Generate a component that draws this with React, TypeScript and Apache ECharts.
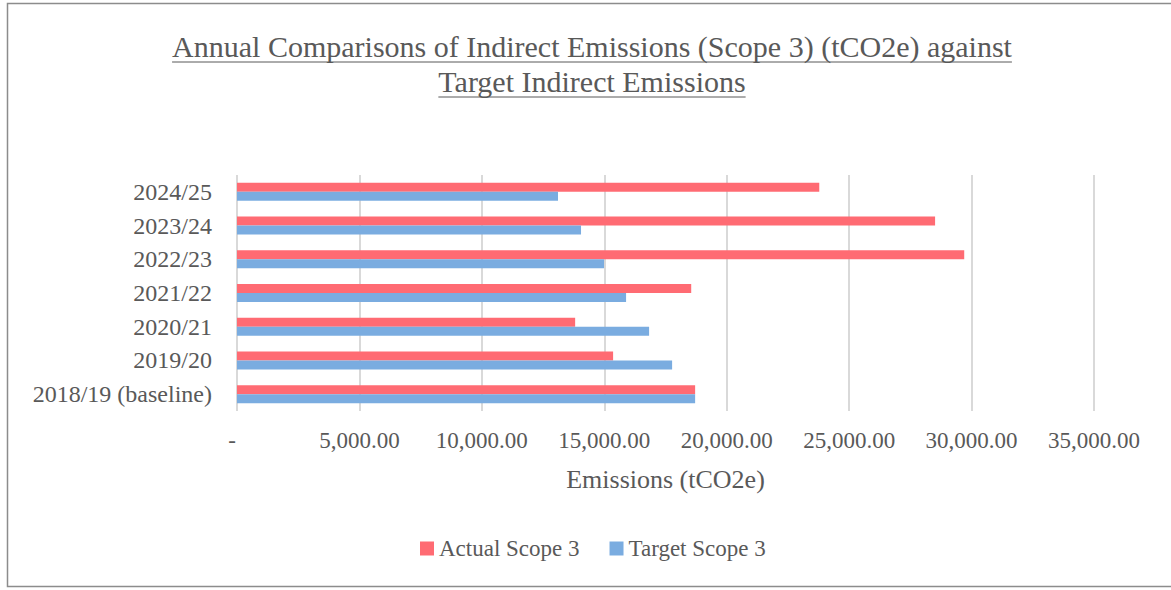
import React, { useEffect, useRef } from "react";
import * as echarts from "echarts";

const categories = [
  "2018/19 (baseline)",
  "2019/20",
  "2020/21",
  "2021/22",
  "2022/23",
  "2023/24",
  "2024/25",
];
const actualScope3 = [18710, 15360, 13810, 18550, 29700, 28510, 23780];
const targetScope3 = [18710, 17770, 16830, 15890, 14990, 14050, 13110];
const titleLines = [
  "Annual Comparisons of Indirect Emissions (Scope 3) (tCO2e) against",
  "Target Indirect Emissions",
];
const xAxisName = "Emissions (tCO2e)";
const seriesNames = ["Actual Scope 3", "Target Scope 3"];

const FONT = '"Liberation Serif", "Times New Roman", serif';
const TEXT = "#595959";
const RED = "#FF6B73";
const BLUE = "#7AACE0";

function measure(text: string, size: number): number {
  const c = document.createElement("canvas");
  const ctx = c.getContext("2d");
  if (!ctx) return text.length * size * 0.45;
  ctx.font = `${size}px ${FONT}`;
  return ctx.measureText(text).width;
}

export default function App() {
  const ref = useRef<HTMLDivElement>(null);
  useEffect(() => {
    if (!ref.current) return;
    const chart = echarts.init(ref.current, undefined, { renderer: "svg" });
    const titleSize = 30;
    const cx = 592;
    const lineYs = [46, 81];
    const graphics: any[] = [
      {
        type: "rect",
        shape: { x: 7.5, y: 3.5, width: 1180, height: 583 },
        style: { fill: "none", stroke: "#8c8c8c", lineWidth: 1.5 },
        silent: true,
      },
    ];
    titleLines.forEach((t, i) => {
      const w = measure(t, titleSize);
      graphics.push({
        type: "text",
        x: cx,
        y: lineYs[i],
        style: {
          text: t,
          fill: TEXT,
          font: `${titleSize}px ${FONT}`,
          align: "center",
          verticalAlign: "middle",
        },
      });
      graphics.push({
        type: "line",
        shape: {
          x1: cx - w / 2,
          y1: lineYs[i] + 16,
          x2: cx + w / 2,
          y2: lineYs[i] + 16,
        },
        style: { stroke: TEXT, lineWidth: 1 },
      });
    });

    chart.setOption({
      animation: false,
      textStyle: { fontFamily: FONT, color: TEXT },
      graphic: graphics,
      legend: {
        data: seriesNames,
        left: 420,
        top: 537,
        padding: 0,
        icon: "rect",
        itemWidth: 14,
        itemHeight: 14,
        itemGap: 30,
        textStyle: { fontFamily: FONT, fontSize: 23, color: TEXT },
      },
      grid: { left: 237, right: 77, top: 175, bottom: 179, containLabel: false },
      xAxis: {
        type: "value",
        min: 0,
        max: 35000,
        interval: 5000,
        name: xAxisName,
        nameLocation: "middle",
        nameGap: 55,
        nameTextStyle: { fontFamily: FONT, fontSize: 26, color: TEXT },
        axisLine: { show: false },
        axisTick: { show: false },
        splitLine: { show: true, lineStyle: { color: "#d9d9d9", width: 2 } },
        axisLabel: {
          margin: 18,
          fontFamily: FONT,
          fontSize: 23,
          color: TEXT,
          formatter: (v: number) =>
            v === 0
              ? "{d|-}"
              : v.toLocaleString("en-US", {
                  minimumFractionDigits: 2,
                  maximumFractionDigits: 2,
                }),
          rich: { d: { fontFamily: FONT, fontSize: 23, color: TEXT, padding: [0, 10, 0, 0] } },
        },
      },
      yAxis: {
        type: "category",
        data: categories,
        axisLine: { show: false },
        axisTick: { show: false },
        axisLabel: { margin: 25, fontFamily: FONT, fontSize: 24, color: TEXT },
      },
      series: [
        {
          name: seriesNames[0],
          type: "bar",
          data: actualScope3,
          barWidth: 9,
          barGap: "0%",
          itemStyle: { color: RED },
        },
        {
          name: seriesNames[1],
          type: "bar",
          data: targetScope3,
          barWidth: 9,
          barGap: "0%",
          itemStyle: { color: BLUE },
        },
      ],
    });
    return () => chart.dispose();
  }, []);
  return (
    <div
      ref={ref}
      style={{ position: "absolute", left: 0, top: 0, width: 1171, height: 590, background: "#fff" }}
    />
  );
}
